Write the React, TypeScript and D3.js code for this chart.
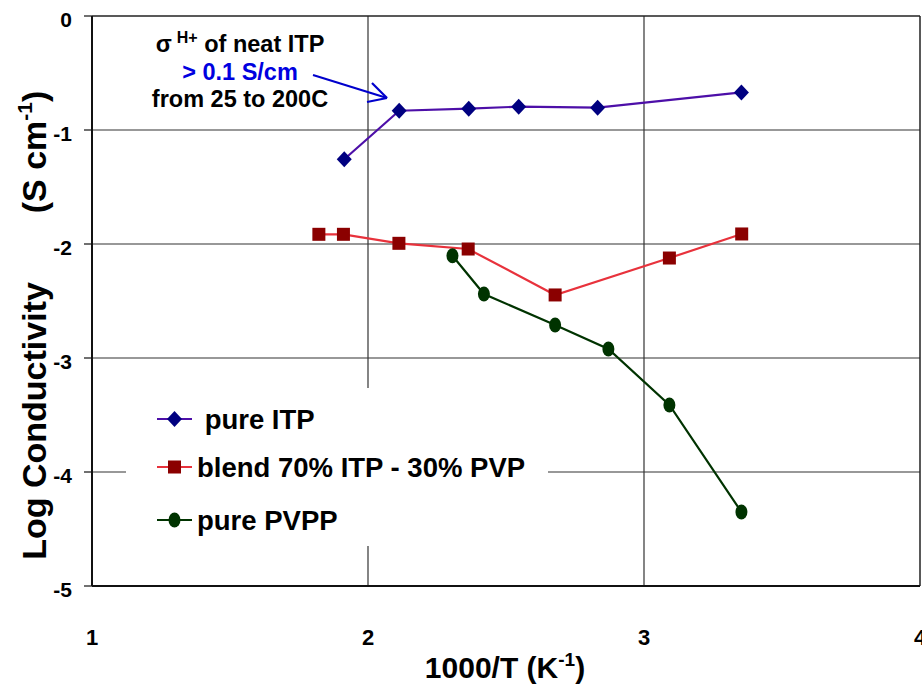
import * as d3 from 'd3';
import React from 'react';

// values
const itpX = [1.914, 2.113, 2.365, 2.546, 2.832, 3.353];
const itpY = [-1.257, -0.831, -0.813, -0.795, -0.804, -0.670];

const blendX = [1.822, 1.911, 2.112, 2.363, 2.678, 3.092, 3.354];
const blendY = [-1.915, -1.915, -1.994, -2.044, -2.447, -2.123, -1.912];

const pvppX = [2.306, 2.420, 2.678, 2.871, 3.092, 3.353];
const pvppY = [-2.103, -2.439, -2.711, -2.921, -3.412, -4.351];

const xTicks = [1, 2, 3, 4];
const yTicks = [0, -1, -2, -3, -4, -5];

const legendLabels = [' pure ITP', 'blend 70% ITP - 30% PVP', 'pure PVPP'];

const W = 922;
const H = 686;
const margin = { top: 16, right: 2, bottom: 100, left: 92 };
const FONT = 'Liberation Sans, Arial, sans-serif';

const zip = (xs: number[], ys: number[]) => xs.map((x, i) => [x, ys[i]] as [number, number]);

export default function App() {
  const x = d3.scaleLinear().domain([1, 4]).range([margin.left, W - margin.right]);
  const y = d3.scaleLinear().domain([-5, 0]).range([H - margin.bottom, margin.top]);

  const line = d3.line<[number, number]>()
    .x(d => x(d[0]))
    .y(d => y(d[1]));

  const itp = zip(itpX, itpY);
  const blend = zip(blendX, blendY);
  const pvpp = zip(pvppX, pvppY);

  const diamond = (cx: number, cy: number, key: any) => (
    <path key={key} d={`M${cx},${cy - 8}L${cx + 7.5},${cy}L${cx},${cy + 8}L${cx - 7.5},${cy}Z`} fill="#000080" />
  );
  const square = (cx: number, cy: number, key: any) => (
    <rect key={key} x={cx - 6.5} y={cy - 6.5} width={13} height={13} fill="#8b0000" />
  );
  const circle = (cx: number, cy: number, key: any) => (
    <ellipse key={key} cx={cx} cy={cy} rx={6} ry={7.5} fill="#003300" />
  );

  const series = [
    { data: itp, stroke: '#4d0fa8', marker: diamond },
    { data: blend, stroke: '#e8323c', marker: square },
    { data: pvpp, stroke: '#003300', marker: circle },
  ];

  const x0 = x(1), x1 = x(4), y0 = y(0), y1 = y(-5);

  // legend box
  const lg = { x: 126, y: 388, w: 422, h: 158 };
  const legendY = [419, 467, 520];

  return (
    <svg width={W} height={H} style={{ position: 'absolute', left: 0, top: 0, background: '#fff' }}
      fontFamily={FONT} fontWeight="bold">
      {/* grid */}
      {yTicks.filter(t => t > -5 && t < 0).map(t => (
        <line key={'gy' + t} x1={x0} x2={x1} y1={y(t)} y2={y(t)} stroke="#333" strokeWidth={1.2} />
      ))}
      {xTicks.filter(t => t > 1 && t < 4).map(t => (
        <line key={'gx' + t} x1={x(t)} x2={x(t)} y1={y0} y2={y1} stroke="#333" strokeWidth={1.2} />
      ))}

      {/* plot border */}
      <line x1={x0} x2={x1} y1={y0} y2={y0} stroke="#222" strokeWidth={1.5} />
      <line x1={x1} x2={x1} y1={y0} y2={y1} stroke="#222" strokeWidth={1.5} />
      <line x1={x0} x2={x1} y1={y1} y2={y1} stroke="#111" strokeWidth={2} />
      <line x1={x0} x2={x0} y1={y0} y2={y1} stroke="#111" strokeWidth={2} />

      {/* y ticks */}
      {yTicks.map(t => (
        <g key={'ty' + t}>
          <line x1={x0 - 8} x2={x0} y1={y(t)} y2={y(t)} stroke="#111" strokeWidth={1.2} />
          <text x={72} y={y(t) + 11} textAnchor="end" fontSize={21}>{t}</text>
        </g>
      ))}

      {/* x ticks */}
      {xTicks.map(t => (
        <text key={'tx' + t} x={x(t)} y={645} textAnchor="middle" fontSize={22}>{t}</text>
      ))}

      {/* axis titles */}
      <text x={505} y={678} textAnchor="middle" fontSize={30}>
        1000/T (K<tspan fontSize={19} dy={-12}>-1</tspan><tspan dy={12}>)</tspan>
      </text>
      <text transform="translate(46,421) rotate(-90)" textAnchor="middle" fontSize={34}>Log Conductivity</text>
      <text transform="translate(46,152) rotate(-90)" textAnchor="middle" fontSize={34}>
        (S cm<tspan fontSize={21} dy={-14}>-1</tspan><tspan dy={14}>)</tspan>
      </text>

      {/* series */}
      {series.map((s, i) => (
        <g key={'s' + i}>
          <path d={line(s.data) || ''} fill="none" stroke={s.stroke} strokeWidth={2.2} />
          {s.data.map((d, j) => s.marker(x(d[0]), y(d[1]), j))}
        </g>
      ))}

      {/* legend */}
      <rect x={lg.x} y={lg.y} width={lg.w} height={lg.h} fill="#fff" />
      {series.map((s, i) => (
        <g key={'l' + i}>
          <line x1={157} x2={192} y1={legendY[i]} y2={legendY[i]} stroke={s.stroke} strokeWidth={2.2} />
          {s.marker(174.5, legendY[i], 'm')}
          <text x={197} y={legendY[i] + 10} fontSize={27.5} style={{ whiteSpace: 'pre' }}>{legendLabels[i]}</text>
        </g>
      ))}

      {/* annotation */}
      <text x={240} y={52} textAnchor="middle" fontSize={23.5}>
        σ<tspan fontSize={16} dy={-9} dx={5}>H+</tspan><tspan dy={9}> of neat ITP</tspan>
      </text>
      <text x={240} y={80} textAnchor="middle" fontSize={23.5} fill="#0000e0">&gt; 0.1 S/cm</text>
      <text x={240} y={107} textAnchor="middle" fontSize={23.5}>from 25 to 200C</text>
      <g stroke="#0000cc" strokeWidth={2.2} fill="none">
        <line x1={313} y1={75} x2={387} y2={98} />
        <line x1={372} y1={83} x2={387} y2={98} />
        <line x1={367} y1={102} x2={387} y2={98} />
      </g>
    </svg>
  );
}
